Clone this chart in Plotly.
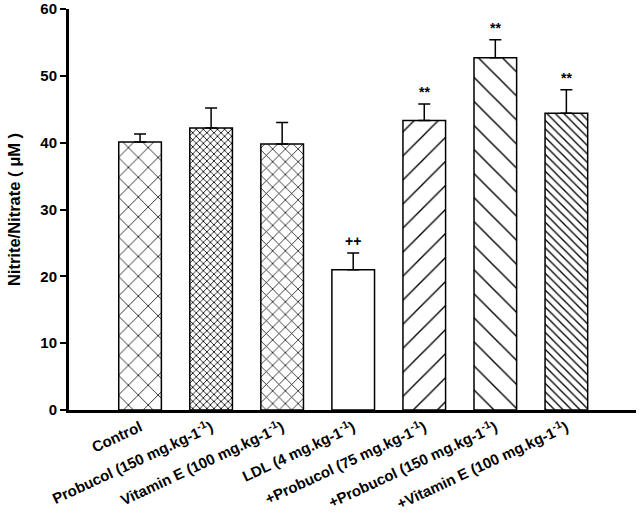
import plotly.graph_objects as go

categories = [
    "Control",
    "Probucol (150 mg.kg-1<sup>-1</sup>)",
    "Vitamin E (100 mg.kg-1<sup>-1</sup>)",
    "LDL (4 mg.kg-1<sup>-1</sup>)",
    "+Probucol (75 mg.kg-1<sup>-1</sup>)",
    "+Probucol (150 mg.kg-1<sup>-1</sup>)",
    "+Vitamin E (100 mg.kg-1<sup>-1</sup>)",
]
values = [40.1, 42.2, 39.8, 21.0, 43.3, 52.7, 44.4]
errors = [1.2, 3.0, 3.2, 2.5, 2.5, 2.7, 3.5]
marks = ["", "", "", "++", "**", "**", "**"]

pattern_shapes = ["x", "x", "x", "", "/", "\\", "\\"]
pattern_sizes = [14, 5, 9, 8, 17, 17, 6]
pattern_solidity = [0.11, 0.3, 0.16, 0.1, 0.08, 0.08, 0.22]

font = "Arial, Liberation Sans, sans-serif"

fig = go.Figure()
fig.add_trace(go.Bar(
    x=list(range(len(categories))),
    y=values,
    width=0.6,
    marker=dict(
        color="white",
        line=dict(color="black", width=1.5),
        pattern=dict(shape=pattern_shapes, size=pattern_sizes,
                     solidity=pattern_solidity, fgcolor="black",
                     fgopacity=1, bgcolor="white", fillmode="overlay"),
    ),
    error_y=dict(type="data", symmetric=False, array=errors,
                 arrayminus=[0] * len(errors), color="black",
                 thickness=1.5, width=6),
    showlegend=False,
))

for i, (v, e, m) in enumerate(zip(values, errors, marks)):
    if m:
        fig.add_annotation(x=i, y=v + e, text=f"<b>{m}</b>", showarrow=False,
                           yanchor="bottom", yshift=2,
                           font=dict(family=font, size=14, color="black"))

fig.update_layout(
    width=640, height=526,
    margin=dict(l=69, r=4, t=9, b=116),
    paper_bgcolor="white", plot_bgcolor="white",
    font=dict(family=font, color="black"),
)
fig.update_xaxes(
    range=[-1.0, 6.98],
    tickmode="array",
    tickvals=list(range(len(categories))),
    ticktext=[f"<b>{c}</b>" for c in categories],
    tickangle=-25,
    tickfont=dict(family=font, size=15, color="black"),
    showline=True, linecolor="black", linewidth=3,
    ticks="", showgrid=False, zeroline=False,
    automargin=False,
)
fig.update_yaxes(
    range=[0, 60],
    tickvals=[0, 10, 20, 30, 40, 50, 60],
    ticktext=[f"<b>{t}</b>" for t in [0, 10, 20, 30, 40, 50, 60]],
    tickfont=dict(family=font, size=15, color="black"),
    ticks="outside", ticklen=6, tickwidth=2, tickcolor="black",
    ticklabelstandoff=0,
    showline=True, linecolor="black", linewidth=3,
    showgrid=False, zeroline=False,
    automargin=False,
    title=dict(text="<b>Nitrite/Nitrate ( μM )</b>",
               font=dict(family=font, size=16.5, color="black"), standoff=16),
)

fig.write_html("out.html", config={"displayModeBar": False},
               post_script="document.body.style.margin='0';document.body.style.overflow='hidden';")
